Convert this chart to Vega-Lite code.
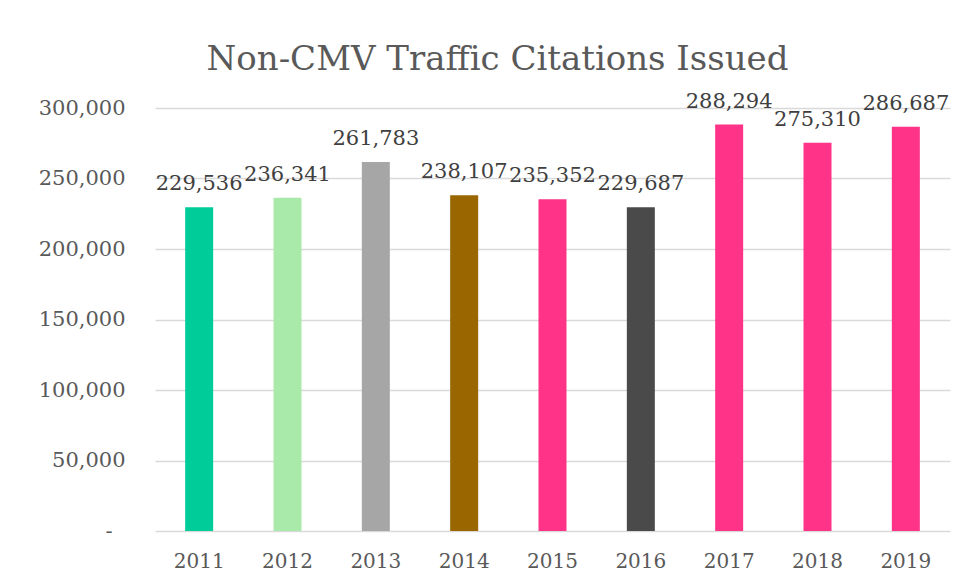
{
  "$schema": "https://vega.github.io/schema/vega-lite/v6.json",
  "width": 795,
  "height": 423,
  "autosize": {"type": "none"},
  "padding": {"left": 155, "top": 108, "right": 21, "bottom": 56},
  "background": "white",
  "title": {
    "text": "Non-CMV Traffic Citations Issued",
    "font": "DejaVu Serif",
    "fontSize": 34,
    "fontWeight": "normal",
    "color": "#595959",
    "anchor": "middle",
    "frame": "group",
    "dx": -55,
    "baseline": "alphabetic",
    "offset": -13
  },
  "config": {
    "view": {"stroke": null},
    "font": "DejaVu Serif"
  },
  "data": {
    "values": [
      {"year": "2011", "citations": 229536},
      {"year": "2012", "citations": 236341},
      {"year": "2013", "citations": 261783},
      {"year": "2014", "citations": 238107},
      {"year": "2015", "citations": 235352},
      {"year": "2016", "citations": 229687},
      {"year": "2017", "citations": 288294},
      {"year": "2018", "citations": 275310},
      {"year": "2019", "citations": 286687}
    ]
  },
  "encoding": {
    "x": {
      "field": "year",
      "type": "ordinal",
      "scale": {"paddingInner": 0.683, "paddingOuter": 0.3415},
      "axis": {
        "title": null,
        "labelAngle": 0,
        "labelFont": "DejaVu Serif",
        "labelFontSize": 20,
        "labelColor": "#595959",
        "ticks": false,
        "domain": false,
        "labelPadding": 20
      }
    },
    "y": {
      "field": "citations",
      "type": "quantitative",
      "scale": {"domain": [0, 300000], "nice": false},
      "axis": {
        "title": null,
        "values": [0, 50000, 100000, 150000, 200000, 250000, 300000],
        "labelExpr": "datum.value == 0 ? '-' : format(datum.value, ',')",
        "labelFont": "DejaVu Serif",
        "labelFontSize": 21,
        "labelColor": "#595959",
        "ticks": false,
        "domain": false,
        "labelPadding": {"condition": {"test": "datum.value === 0", "value": 43}, "value": 30},
        "gridColor": "#d9d9d9",
        "gridWidth": 1.3
      }
    }
  },
  "layer": [
    {
      "mark": {"type": "bar"},
      "encoding": {
        "color": {
          "field": "year",
          "type": "nominal",
          "scale": {
            "domain": ["2011", "2012", "2013", "2014", "2015", "2016", "2017", "2018", "2019"],
            "range": ["#00CC99", "#A9E9AA", "#A6A6A6", "#996600", "#FF3388", "#4A4A4A", "#FF3388", "#FF3388", "#FF3388"]
          },
          "legend": null
        }
      }
    },
    {
      "mark": {"type": "text", "baseline": "alphabetic", "dy": -17, "font": "DejaVu Serif", "fontSize": 21, "color": "#404040"},
      "encoding": {
        "text": {"field": "citations", "type": "quantitative", "format": ","}
      }
    }
  ]
}
